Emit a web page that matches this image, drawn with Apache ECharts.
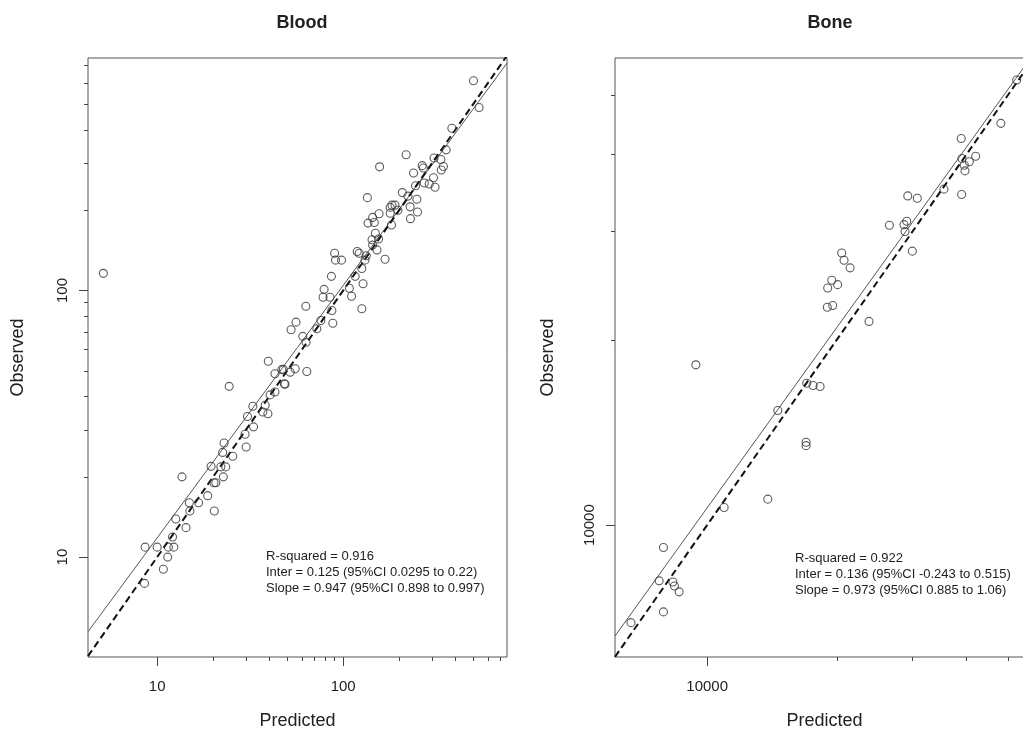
<!DOCTYPE html>
<html>
<head>
<meta charset="utf-8">
<script src="https://cdn.jsdelivr.net/npm/echarts@6/dist/echarts.min.js"></script>
<style>
html, body { margin: 0; background: #fff; }
#chart { width: 1023px; height: 730px; }
</style>
</head>
<body>
<div id="chart"></div>
<script>
// Blood: predicted vs observed
const bloodPredicted = [502, 538, 384, 358, 218, 157, 308, 335, 266, 270, 346, 337, 239, 306, 273, 290, 312, 245,
  135, 208, 223, 249, 229, 251, 230, 183, 190, 179, 197, 179, 144, 156, 136, 147, 182, 149, 155, 143, 144, 152,
  168, 90, 98, 91, 119, 122, 133, 131, 126, 116, 86.5, 128, 108, 79, 78, 85, 111, 126, 63, 87, 88, 75.9, 72.2,
  55.8, 52.5, 60.7, 63.2, 47.7, 51.9, 55.2, 63.8, 48.3, 39.6, 24.4, 46.8, 43, 48.7, 43, 40.5, 38.1, 37, 39.4,
  32.7, 30.6, 33, 29.7, 30.1, 22.9, 22.5, 25.5, 19.5, 22, 23.4, 22.7, 13.6, 20.7, 20.2, 18.7, 16.7, 14.9, 15,
  20.3, 12.6, 14.3, 12.1, 8.62, 10, 11.5, 12.3, 11.4, 10.8, 8.55, 5.14];
const bloodObserved = [612, 486, 406, 337, 323, 291, 314, 310, 294, 288, 292, 283, 276, 265, 253, 251, 244, 247,
  223, 233, 226, 220, 206, 197, 186, 209, 209, 205, 200, 195, 188, 194, 179, 180, 176, 164, 156, 155, 148, 142,
  131, 138, 130, 130, 140, 138, 135, 130, 121, 113, 113, 106, 102, 101, 94.4, 94.4, 95.2, 85.4, 87.3, 84.1, 75.4, 77.2, 71.9,
  76.1, 71.3, 67.3, 64, 50.6, 49.4, 50.9, 49.7, 44.7, 54.3, 43.7, 50.5, 48.7, 44.5, 41.6, 40.6, 37.1, 35, 34.5,
  36.8, 33.7, 30.8, 28.9, 25.9, 26.8, 24.7, 23.9, 21.9, 21.8, 21.8, 20, 20, 19, 19, 17, 16, 16, 14.9,
  14.9, 13.9, 12.9, 11.9, 10.9, 10.9, 10.9, 10.9, 10, 9, 7.97, 116];

// Bone: predicted vs observed
const bonePredicted = [52320, 48080, 38900, 39060, 40620, 42020, 39540, 39690, 35470, 38990, 29230, 30760, 26490,
  29070, 28640, 28810, 29950, 20530, 20790, 21470, 19470, 19050, 20090, 19010, 19570, 23760, 9414, 14590, 17030,
  17620, 18290, 16970, 16970, 13830, 10950, 7917, 7737, 8325, 8395, 8610, 7917, 6654];
const boneObserved = [52830, 44930, 42460, 39390, 38910, 39720, 38420, 37610, 35130, 34440, 34250, 33960, 30690,
  31160, 30760, 29980, 27860, 27670, 26920, 26170, 24980, 24270, 24580, 22590, 22740, 21420, 18210, 15350, 17000,
  16860, 16790, 13630, 13460, 11020, 10680, 9196, 8118, 8085, 7965, 7790, 7228, 6943];

// fitted (solid) and identity (dashed) line end points
const bloodFit = [[4.25, 5.25], [760, 713]];
const bloodIdentity = [[4.25, 4.25], [760, 760]];
const boneFit = [[6110, 6604], [57400, 58410]];
const boneIdentity = [[6110, 6110], [57400, 57400]];

const bloodMajorTicks = [10, 100];
const bloodMinorTicks = [20, 30, 40, 50, 60, 70, 80, 90, 200, 300, 400, 500, 600, 700];
const boneMajorTicks = [10000];
const boneMinorTicks = [20000, 30000, 40000, 50000];

const bloodStats = ['R-squared = 0.916', 'Inter = 0.125 (95%CI 0.0295 to 0.22)', 'Slope = 0.947 (95%CI 0.898 to 0.997)'];
const boneStats = ['R-squared = 0.922', 'Inter = 0.136 (95%CI -0.243 to 0.515)', 'Slope = 0.973 (95%CI 0.885 to 1.06)'];

const font = '"Liberation Sans", Arial, Helvetica, sans-serif';
const ink = '#222';

function zip(a, b) {
  return a.map((v, i) => [v, b[i]]);
}

function axes(dim, gridIndex, min, max, major, minor, name, nameGap) {
  const isY = dim === 'y';
  const base = {
    type: 'log', gridIndex: gridIndex, min: min, max: max,
    position: isY ? 'left' : 'bottom',
    axisLine: { show: false },
    splitLine: { show: false }
  };
  return [
    Object.assign({}, base, {
      axisTick: { show: true, length: 9, customValues: major, lineStyle: { color: '#444', width: 1 } },
      axisLabel: {
        customValues: major, formatter: v => String(v), margin: isY ? 18 : 22,
        rotate: isY ? 90 : 0, fontSize: 15, color: ink, fontFamily: font
      },
      name: name, nameLocation: 'middle', nameGap: nameGap,
      nameTextStyle: { fontSize: 18, color: ink, fontFamily: font }
    }),
    Object.assign({}, base, {
      axisTick: { show: true, length: 4, customValues: minor, lineStyle: { color: '#444', width: 1 } },
      axisLabel: { show: false }
    })
  ];
}

const chart = echarts.init(document.getElementById('chart'));

function scatter(xi, yi, data) {
  return {
    type: 'scatter', xAxisIndex: xi, yAxisIndex: yi, data: data,
    symbol: 'circle', symbolSize: 8,
    itemStyle: { color: 'rgba(0,0,0,0)', borderColor: '#333', borderWidth: 1.1 },
    silent: true, z: 3
  };
}

function line(xi, yi, data, dashed) {
  return {
    type: 'line', xAxisIndex: xi, yAxisIndex: yi, data: data,
    symbol: 'none', clip: true, silent: true, z: 2,
    lineStyle: dashed ? { color: '#111', width: 2, type: [7, 4] } : { color: '#555', width: 1 }
  };
}

chart.setOption({
  animation: false,
  backgroundColor: '#fff',
  title: [
    { text: 'Blood', left: 297, top: 9, textAlign: 'center', textStyle: { fontSize: 18, fontWeight: 'bold', color: ink, fontFamily: font } },
    { text: 'Bone', left: 825, top: 9, textAlign: 'center', textStyle: { fontSize: 18, fontWeight: 'bold', color: ink, fontFamily: font } }
  ],
  grid: [
    { left: 88, top: 58, width: 419, height: 599, outerBoundsMode: 'none', containLabel: false,
      show: true, borderColor: '#555', borderWidth: 1, backgroundColor: 'transparent' },
    { left: 615, top: 58, width: 419, height: 599, outerBoundsMode: 'none', containLabel: false,
      show: true, borderColor: '#555', borderWidth: 1, backgroundColor: 'transparent' }
  ],
  xAxis: [].concat(
    axes('x', 0, 4.25, 760, bloodMajorTicks, bloodMinorTicks, 'Predicted', 55),
    axes('x', 1, 6110, 57400, boneMajorTicks, boneMinorTicks, 'Predicted', 55)
  ),
  yAxis: [].concat(
    axes('y', 0, 4.22, 745, bloodMajorTicks, bloodMinorTicks, 'Observed', 61),
    axes('y', 1, 6106, 57370, boneMajorTicks, boneMinorTicks, 'Observed', 58)
  ),
  series: [
    line(0, 0, bloodFit, false),
    line(0, 0, bloodIdentity, true),
    scatter(0, 0, zip(bloodPredicted, bloodObserved)),
    line(2, 2, boneFit, false),
    line(2, 2, boneIdentity, true),
    scatter(2, 2, zip(bonePredicted, boneObserved))
  ],
  graphic: [
    { type: 'text', left: 266, top: 548, style: { text: bloodStats.join('\n'), font: '13px ' + font, lineHeight: 16, fill: ink } },
    { type: 'text', left: 795, top: 550, style: { text: boneStats.join('\n'), font: '13px ' + font, lineHeight: 16, fill: ink } }
  ]
});
</script>
</body>
</html>
